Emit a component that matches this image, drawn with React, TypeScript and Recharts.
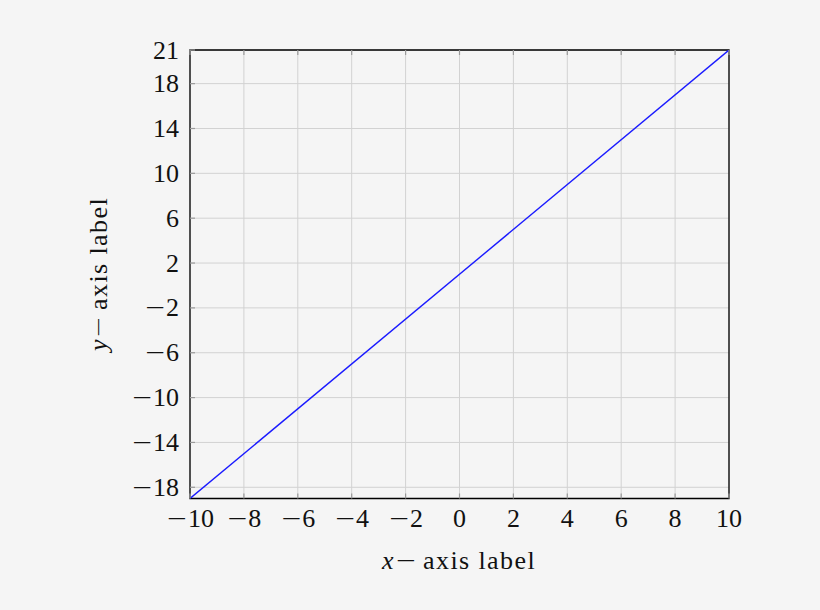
import React from "react";
import { LineChart, Line, XAxis, YAxis, CartesianGrid, ReferenceArea } from "recharts";

const xValues = [-10, 10];
const yValues = [-19, 21];
const xTicks = [-10, -8, -6, -4, -2, 0, 2, 4, 6, 8, 10];
const yTicks = [-18, -14, -10, -6, -2, 2, 6, 10, 14, 18, 21];
const xLabel = "axis label";
const yLabel = "axis label";

const data = xValues.map((x, i) => ({ x, y: yValues[i] }));

const FONT = "'Liberation Serif', 'DejaVu Serif', serif";
const MINUS_FONT = "'DejaVu Sans ExtraLight', 'DejaVu Sans', sans-serif";
const FS = 26;
const TICK_LEN = 5;
const MARGIN = 10;
const TICK_COLOR = "#9a9a9a";

const TickText = ({ x, y, value, anchor }: any) => {
  if (value < 0) {
    return (
      <text x={x} y={y} textAnchor={anchor} fontFamily={FONT} fontSize={FS} fill="#111">
        <tspan fontFamily={MINUS_FONT} fontWeight={200}>{"\u2212"}</tspan>
        <tspan>{String(Math.abs(value))}</tspan>
      </text>
    );
  }
  return (
    <text x={x} y={y} textAnchor={anchor} fontFamily={FONT} fontSize={FS} fill="#111">
      {String(value)}
    </text>
  );
};

const BottomTick = (props: any) => {
  const { x, y, payload } = props;
  const axisY = y - MARGIN;
  return (
    <g>
      <line x1={x} x2={x} y1={axisY} y2={axisY - TICK_LEN} stroke={TICK_COLOR} strokeWidth={1.2} />
      <TickText x={x} y={axisY + 28.5} value={payload.value} anchor="middle" />
    </g>
  );
};

const TopTick = (props: any) => {
  const { x, y } = props;
  const axisY = y + MARGIN;
  return <line x1={x} x2={x} y1={axisY} y2={axisY + TICK_LEN} stroke={TICK_COLOR} strokeWidth={1.2} />;
};

const LeftTick = (props: any) => {
  const { x, y, payload } = props;
  const axisX = x + MARGIN;
  return (
    <g>
      <line x1={axisX} x2={axisX + TICK_LEN} y1={y} y2={y} stroke={TICK_COLOR} strokeWidth={1.2} />
      <TickText x={axisX - 11} y={y + 8.5} value={payload.value} anchor="end" />
    </g>
  );
};

const RightTick = (props: any) => {
  const { x, y } = props;
  const axisX = x - MARGIN;
  return <line x1={axisX} x2={axisX - TICK_LEN} y1={y} y2={y} stroke={TICK_COLOR} strokeWidth={1.2} />;
};

export default function App() {
  return (
    <div
      style={{
        position: "absolute",
        left: 0,
        top: 0,
        width: 820,
        height: 610,
        background: "#f5f5f5",
      }}
    >
      <LineChart
        width={820}
        height={610}
        data={data}
        margin={{ top: 49, right: 90, bottom: 31.5, left: 0 }}
      >
        <CartesianGrid stroke="#d2d2d2" strokeWidth={1} />
        <XAxis
          dataKey="x"
          type="number"
          domain={[-10, 10]}
          ticks={xTicks}
          interval={0}
          allowDataOverflow
          height={80}
          tickSize={0}
          tickMargin={MARGIN}
          tick={<BottomTick />}
          axisLine={false}
          tickLine={false}
        />
        <XAxis
          xAxisId="top"
          orientation="top"
          dataKey="x"
          type="number"
          domain={[-10, 10]}
          ticks={xTicks}
          interval={0}
          height={1}
          tickSize={0}
          tickMargin={MARGIN}
          tick={<TopTick />}
          axisLine={false}
          tickLine={false}
        />
        <YAxis
          type="number"
          domain={[-19, 21]}
          ticks={yTicks}
          interval={0}
          allowDataOverflow
          width={190}
          tickSize={0}
          tickMargin={MARGIN}
          tick={<LeftTick />}
          axisLine={false}
          tickLine={false}
        />
        <YAxis
          yAxisId="right"
          orientation="right"
          type="number"
          domain={[-19, 21]}
          ticks={yTicks}
          interval={0}
          width={1}
          tickSize={0}
          tickMargin={MARGIN}
          tick={<RightTick />}
          axisLine={false}
          tickLine={false}
        />
        <ReferenceArea
          x1={-10}
          x2={10}
          y1={-19}
          y2={21}
          fill="none"
          fillOpacity={0}
          stroke="#000"
          strokeWidth={1.3}
          ifOverflow="visible"
        />
        <Line
          dataKey="y"
          type="linear"
          stroke="#1a1aff"
          strokeWidth={1.4}
          dot={false}
          isAnimationActive={false}
        />
      </LineChart>
      <svg
        width={820}
        height={610}
        style={{ position: "absolute", left: 0, top: 0, pointerEvents: "none" }}
      >
        <text x={459} y={569} textAnchor="middle" fontFamily={FONT} fontSize={FS} fill="#111" letterSpacing={1.4}>
          <tspan fontStyle="italic">x</tspan>
          <tspan fontFamily={MINUS_FONT} fontWeight={200}>{"\u2212"}</tspan>
          <tspan dx={5}>{xLabel}</tspan>
        </text>
        <text
          x={0}
          y={0}
          transform="translate(107, 274) rotate(-90)"
          textAnchor="middle"
          fontFamily={FONT}
          fontSize={FS}
          fill="#111"
          letterSpacing={1.4}
        >
          <tspan fontStyle="italic">y</tspan>
          <tspan fontFamily={MINUS_FONT} fontWeight={200}>{"\u2212"}</tspan>
          <tspan dx={5}>{yLabel}</tspan>
        </text>
      </svg>
    </div>
  );
}
